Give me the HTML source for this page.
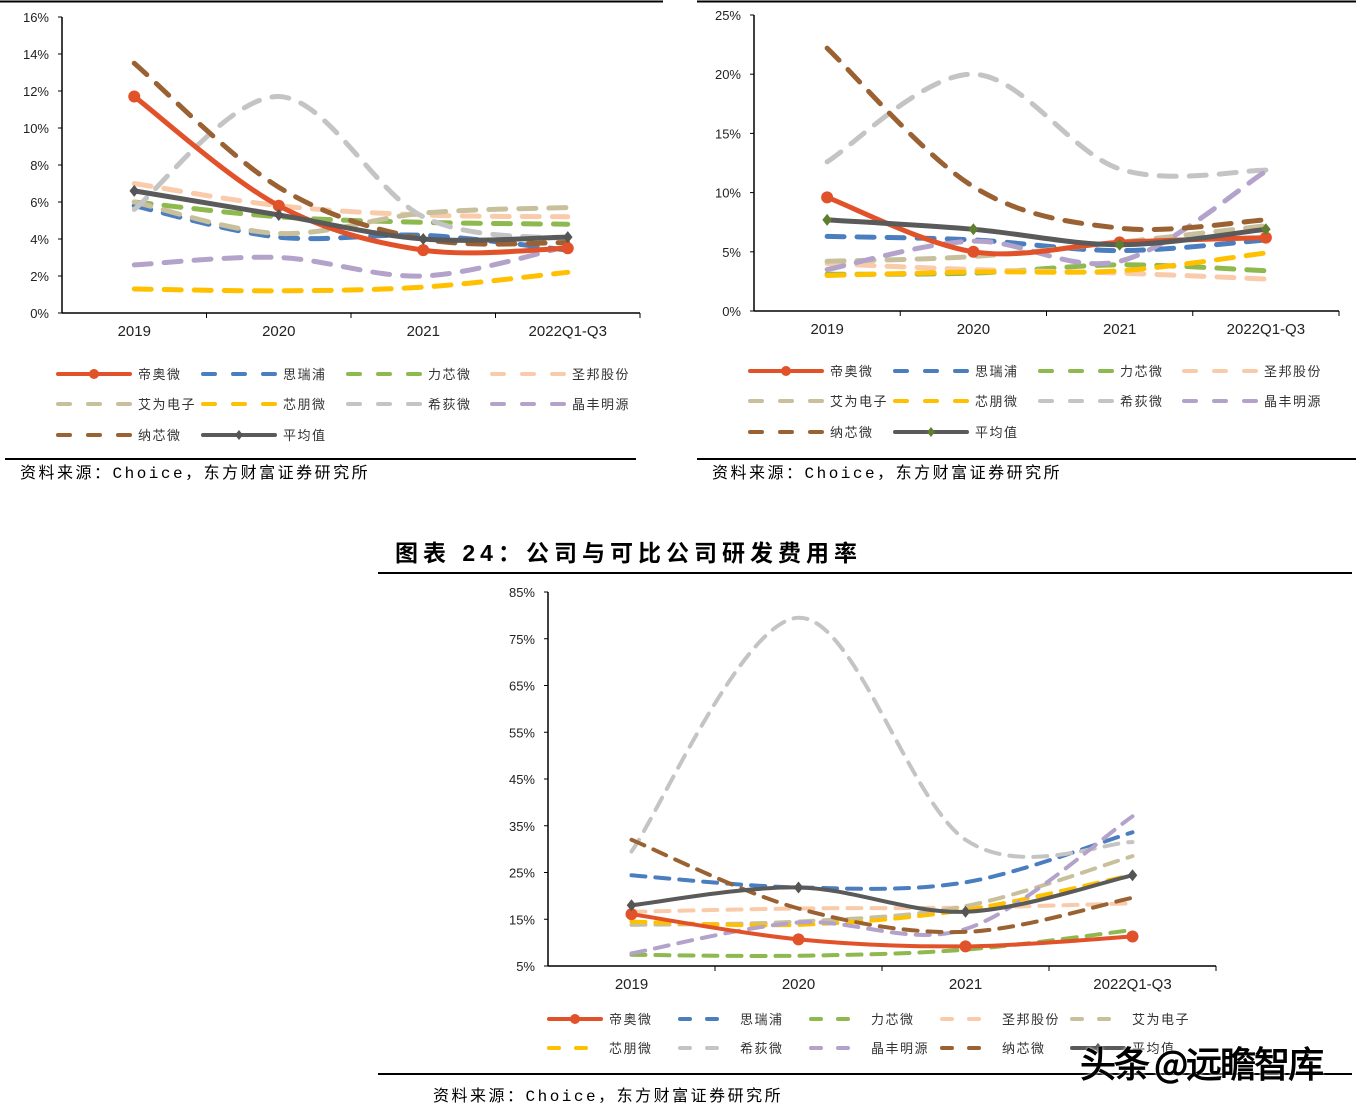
<!DOCTYPE html>
<html><head><meta charset="utf-8">
<style>
html,body{margin:0;padding:0;background:#fff;}
body{width:1363px;height:1110px;position:relative;overflow:hidden;font-family:"Liberation Sans","Noto Sans CJK SC",sans-serif;}
svg{position:absolute;left:0;top:0;}
</style></head>
<body>
<svg id="main" width="1363" height="1110" viewBox="0 0 1363 1110">
 <line x1="0" y1="1.5" x2="663" y2="1.5" stroke="#000" stroke-width="2"/>
 <line x1="697" y1="1.5" x2="1356" y2="1.5" stroke="#000" stroke-width="2"/>
 <line x1="5" y1="459" x2="636" y2="459" stroke="#000" stroke-width="2"/>
 <line x1="697" y1="459" x2="1356" y2="459" stroke="#000" stroke-width="2"/>
 <text x="20" y="478" font-size="16" letter-spacing="2.5" font-family="Liberation Mono, Noto Sans CJK SC, monospace">资料来源：Choice，东方财富证券研究所</text>
 <text x="712" y="478" font-size="16" letter-spacing="2.5" font-family="Liberation Mono, Noto Sans CJK SC, monospace">资料来源：Choice，东方财富证券研究所</text>
 <text x="395" y="561" font-size="23" font-weight="bold" letter-spacing="5" font-family="Liberation Sans, Noto Sans CJK SC, sans-serif">图表 24：公司与可比公司研发费用率</text>
 <line x1="378" y1="573" x2="1352" y2="573" stroke="#000" stroke-width="2"/>
 <line x1="378" y1="1074" x2="1352" y2="1074" stroke="#000" stroke-width="2"/>
 <text x="433" y="1101" font-size="16" letter-spacing="2.5" font-family="Liberation Mono, Noto Sans CJK SC, monospace">资料来源：Choice，东方财富证券研究所</text>
</svg>
<script>
const categories = ["2019","2020","2021","2022Q1-Q3"];
const seriesNames = ["帝奥微","思瑞浦","力芯微","圣邦股份","艾为电子","芯朋微","希荻微","晶丰明源","纳芯微","平均值"];
// chart 1 values (%)
const c1Red=[11.7,5.8,3.4,3.5];
const c1Blue=[5.8,4.1,4.2,3.4];
const c1Green=[6.0,5.2,4.9,4.8];
const c1Peach=[7.0,5.8,5.3,5.2];
const c1Tan=[6.0,4.3,5.4,5.7];
const c1Yellow=[1.3,1.2,1.4,2.2];
const c1Grey=[5.6,11.7,5.2,4.0];
const c1Purple=[2.6,3.0,2.0,3.6];
const c1Brown=[13.5,6.8,4.0,3.8];
const c1Avg=[6.6,5.3,4.0,4.1];
const c1Ticks=["0%","2%","4%","6%","8%","10%","12%","14%","16%"];
// chart 2 values (%)
const c2Red=[9.6,5.0,5.8,6.2];
const c2Blue=[6.3,6.0,5.1,6.0];
const c2Green=[3.1,3.2,3.9,3.4];
const c2Peach=[4.0,3.5,3.2,2.7];
const c2Tan=[4.2,4.6,5.8,7.2];
const c2Yellow=[3.0,3.3,3.4,4.9];
const c2Grey=[12.6,20.0,12.0,11.9];
const c2Purple=[3.5,5.9,4.2,11.8];
const c2Brown=[22.2,10.5,7.0,7.7];
const c2Avg=[7.7,6.9,5.6,6.9];
const c2Ticks=["0%","5%","10%","15%","20%","25%"];
// chart 3 values (%)
const c3Red=[16.1,10.7,9.2,11.3];
const c3Blue=[24.4,21.8,22.9,33.6];
const c3Green=[7.4,7.2,8.5,12.7];
const c3Peach=[16.6,17.3,17.5,18.4];
const c3Tan=[13.8,14.5,17.8,28.5];
const c3Yellow=[14.5,13.8,17.0,24.5];
const c3Grey=[29.5,79.5,32.0,31.5];
const c3Purple=[7.7,14.3,12.9,37.0];
const c3Brown=[32.0,17.3,12.3,19.6];
const c3Avg=[18.0,21.8,16.6,24.4];
const c3Ticks=["5%","15%","25%","35%","45%","55%","65%","75%","85%"];

const NS="http://www.w3.org/2000/svg";
const svg=document.getElementById('main');
const colors={red:"#E2522A",blue:"#4A7EBF",green:"#8DB94E",peach:"#F9CBAA",tan:"#C8C09C",yellow:"#FFC000",grey:"#C4C4C4",purple:"#B3A2CA",brown:"#9A6232",avg:"#5A5A5A"};
function mk(tag,attrs,parent){const e=document.createElementNS(NS,tag);for(const k in attrs)e.setAttribute(k,attrs[k]);(parent||svg).appendChild(e);return e;}
function smooth(pts){let d="M"+pts[0][0]+","+pts[0][1];for(let i=0;i<pts.length-1;i++){const p0=pts[i-1]||pts[i],p1=pts[i],p2=pts[i+1],p3=pts[i+2]||p2;const c1x=p1[0]+(p2[0]-p0[0])/6,c1y=p1[1]+(p2[1]-p0[1])/6,c2x=p2[0]-(p3[0]-p1[0])/6,c2y=p2[1]-(p3[1]-p1[1])/6;d+=" C"+c1x+","+c1y+" "+c2x+","+c2y+" "+p2[0]+","+p2[1];}return d;}

function chart(cfg){
 const g=mk('g',{});
 
 
 const yOf=v=>cfg.y0-(v-cfg.vmin)/(cfg.vmax-cfg.vmin)*(cfg.y0-cfg.y1);
 const bw=(cfg.xEnd-cfg.x0)/categories.length;
 const xOf=i=>cfg.x0+bw*(i+0.5);
 const ya=mk('line',{x1:cfg.x0,y1:cfg.y1,x2:cfg.x0,y2:cfg.y0,stroke:"#000","stroke-width":1.5},g);
 
 
 const xa=mk('line',{x1:cfg.x0,y1:cfg.y0,x2:cfg.xEnd,y2:cfg.y0,stroke:"#000","stroke-width":1.5},g);
 
 
 cfg.ticks.forEach((t,i)=>{const v=cfg.vmin+i*(cfg.vmax-cfg.vmin)/(cfg.ticks.length-1);const y=yOf(v);
  mk('line',{x1:cfg.x0-4,y1:y,x2:cfg.x0,y2:y,stroke:"#000","stroke-width":1},g);
  const tx=mk('text',{x:cfg.x0-13,y:y+5,"font-size":13,"text-anchor":"end",fill:"#222"},g);tx.textContent=t;
  
  });
 categories.forEach((c,i)=>{
  mk('line',{x1:cfg.x0+bw*(i+1),y1:cfg.y0,x2:cfg.x0+bw*(i+1),y2:cfg.y0+5,stroke:"#000","stroke-width":1},g);
  const tx=mk('text',{x:xOf(i),y:cfg.y0+23,"font-size":15,"text-anchor":"middle",fill:"#222"},g);tx.textContent=c;
  
  });
 const sw=cfg.sw;
 const order=[1,2,3,4,5,6,7,8,0,9];
 order.forEach(si=>{const s=cfg.series[si];const pts=s.vals.map((v,i)=>[xOf(i),yOf(v)]);
  const p=mk('path',{d:smooth(pts),fill:"none",stroke:colors[s.c],"stroke-width":sw,"stroke-linecap":"round","stroke-dasharray":(si===0||si===9)?"none":cfg.dash},g);
  
  
  if(si===0){pts.forEach(q=>{const m=mk('circle',{cx:q[0],cy:q[1],r:cfg.mr,fill:colors.red},g);
   
   });}
  if(si===9){pts.forEach(q=>{const r=cfg.mr;const m=mk('path',{d:`M${q[0]},${q[1]-r} L${q[0]+r*0.8},${q[1]} L${q[0]},${q[1]+r} L${q[0]-r*0.8},${q[1]} Z`,fill:cfg.avgMarker},g);
   
   });}
 });
 cfg.legend.forEach((L,k)=>{const s=cfg.series[L.i];
  const lg=mk('g',{},g);
  
  
  const solid=L.i===0||L.i===9;
  mk('line',{x1:L.x,y1:L.y,x2:L.x+cfg.lw,y2:L.y,stroke:colors[s.c],"stroke-width":cfg.lsw,"stroke-linecap":"round","stroke-dasharray":solid?"none":cfg.ldash},lg);
  if(L.i===0)mk('circle',{cx:L.x+cfg.lw/2,cy:L.y,r:cfg.lmr,fill:colors.red},lg);
  if(L.i===9){const cx=L.x+cfg.lw/2,r=cfg.lmr;mk('path',{d:`M${cx},${L.y-r} L${cx+r*0.8},${L.y} L${cx},${L.y+r} L${cx-r*0.8},${L.y} Z`,fill:cfg.avgMarker},lg);}
  const tx=mk('text',{x:L.x+cfg.lw+8,y:L.y+5,"font-size":13,"letter-spacing":1.5,fill:"#333"},lg);tx.textContent=seriesNames[L.i];
 });
}
function ser(a){const keys=["red","blue","green","peach","tan","yellow","grey","purple","brown","avg"];return a.map((v,i)=>({vals:v,c:keys[i]}));}
function grid4(xs,ys){const out=[];for(let i=0;i<10;i++){out.push({i:i,x:xs[i%4],y:ys[Math.floor(i/4)]});}return out;}

chart({name:"chart-sales-expense-rate",x0:62,xEnd:640,y0:313,y1:17,vmin:0,vmax:16,ticks:c1Ticks,sw:5,dash:"17 13",mr:6,avgMarker:"#555",
 series:ser([c1Red,c1Blue,c1Green,c1Peach,c1Tan,c1Yellow,c1Grey,c1Purple,c1Brown,c1Avg]),
 legend:grid4([58,203,348,492],[374,404,435]),lw:72,lsw:4,ldash:"12 18",lmr:5});
chart({name:"chart-admin-expense-rate",x0:754,xEnd:1339,y0:311,y1:15,vmin:0,vmax:25,ticks:c2Ticks,sw:5,dash:"17 13",mr:6,avgMarker:"#5E7F2E",
 series:ser([c2Red,c2Blue,c2Green,c2Peach,c2Tan,c2Yellow,c2Grey,c2Purple,c2Brown,c2Avg]),
 legend:grid4([750,895,1040,1184],[371,401,432]),lw:72,lsw:4,ldash:"12 18",lmr:5});
chart({name:"chart-rd-expense-rate",x0:548,xEnd:1216,y0:966,y1:592,vmin:5,vmax:85,ticks:c3Ticks,sw:4,dash:"14 10",mr:6,avgMarker:"#555",
 series:ser([c3Red,c3Blue,c3Green,c3Peach,c3Tan,c3Yellow,c3Grey,c3Purple,c3Brown,c3Avg]),
 legend:[{i:0,x:549,y:1019},{i:1,x:680,y:1019},{i:2,x:811,y:1019},{i:3,x:942,y:1019},{i:4,x:1072,y:1019},
  {i:5,x:549,y:1048},{i:6,x:680,y:1048},{i:7,x:811,y:1048},{i:8,x:942,y:1048},{i:9,x:1072,y:1048}],lw:52,lsw:4,ldash:"10 17",lmr:5});
</script>
<div style="position:absolute;left:1080px;top:1036px;font-size:36px;font-family:'Noto Sans CJK SC',sans-serif;color:#000;-webkit-text-stroke:1px #000;text-shadow:0 0 3px #fff,0 0 3px #fff;letter-spacing:-2px;">头条 @远瞻智库</div>
</body></html>
